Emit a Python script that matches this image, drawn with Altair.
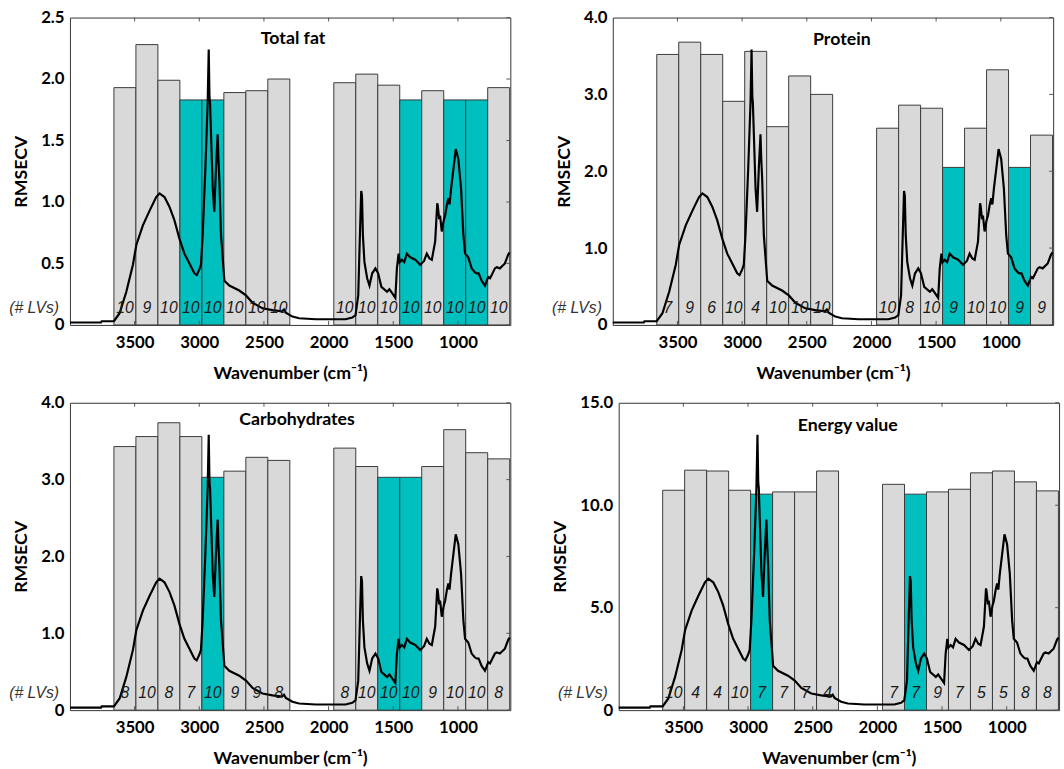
import altair as alt
import pandas as pd

# ---------------- data ----------------
interval_start = [3660, 3490, 3320, 3150, 2980, 2810, 2640, 2470,
                  1960, 1790, 1620, 1450, 1280, 1110, 940, 770]
interval_end = [3490, 3320, 3150, 2980, 2810, 2640, 2470, 2300,
                1790, 1620, 1450, 1280, 1110, 940, 770, 600]

fat_rmsecv = [1.93, 2.28, 1.99, 1.83, 1.83, 1.89, 1.905, 2.00,
              1.97, 2.04, 1.95, 1.83, 1.905, 1.83, 1.83, 1.93]
fat_lvs = [10, 9, 10, 10, 10, 10, 10, 10, 10, 10, 10, 10, 10, 10, 10, 10]
fat_selected = [0, 0, 0, 1, 1, 0, 0, 0, 0, 0, 0, 1, 0, 1, 1, 0]

protein_rmsecv = [3.52, 3.68, 3.52, 2.91, 3.56, 2.58, 3.24, 3.00,
                  2.56, 2.86, 2.82, 2.05, 2.56, 3.32, 2.05, 2.47]
protein_lvs = [7, 9, 6, 10, 4, 10, 10, 10, 10, 8, 10, 9, 10, 10, 9, 9]
protein_selected = [0, 0, 0, 0, 0, 0, 0, 0, 0, 0, 0, 1, 0, 0, 1, 0]

carb_rmsecv = [3.43, 3.56, 3.74, 3.56, 3.03, 3.11, 3.29, 3.25,
               3.41, 3.17, 3.03, 3.03, 3.17, 3.65, 3.35, 3.27]
carb_lvs = [8, 10, 8, 7, 10, 9, 9, 8, 8, 10, 10, 10, 9, 10, 10, 8]
carb_selected = [0, 0, 0, 0, 1, 0, 0, 0, 0, 0, 1, 1, 0, 0, 0, 0]

energy_rmsecv = [10.73, 11.71, 11.67, 10.73, 10.54, 10.65, 10.65, 11.67,
                 11.02, 10.54, 10.65, 10.78, 11.58, 11.67, 11.14, 10.70]
energy_lvs = [10, 4, 4, 10, 7, 7, 7, 4, 7, 7, 9, 7, 5, 5, 8, 8]
energy_selected = [0, 0, 0, 0, 1, 0, 0, 0, 0, 1, 0, 0, 0, 0, 0, 0]

# mean spectrum, read on the "Total fat" panel scale (axis max 2.5)
spectrum_wn = [4000, 3760, 3755, 3660, 3616, 3564, 3513, 3487, 3436, 3384,
               3333, 3307, 3269, 3230, 3192, 3153, 3115, 3076, 3038, 3020,
               3000, 2987, 2974, 2953, 2935, 2927, 2921, 2917, 2896, 2884,
               2871, 2858, 2852, 2845, 2832, 2806, 2768, 2691, 2639, 2588,
               2511, 2434, 2360, 2345, 2331, 2280, 2228, 2100, 1971, 1869,
               1817, 1792, 1771, 1758, 1748, 1742, 1735, 1723, 1702, 1684,
               1663, 1638, 1617, 1592, 1548, 1530, 1510, 1484, 1472, 1459,
               1450, 1433, 1415, 1395, 1369, 1330, 1292, 1262, 1241, 1220,
               1202, 1176, 1160, 1156, 1145, 1138, 1125, 1110, 1099, 1085,
               1074, 1065, 1053, 1035, 1017, 997, 976, 958, 945, 920,
               894, 870, 856, 840, 817, 791, 780, 766, 752, 740,
               714, 700, 676, 637, 612, 600]
spectrum_fat_scale = [0.02, 0.02, 0.03, 0.03, 0.095, 0.27, 0.49, 0.65, 0.81, 0.93,
                      1.04, 1.07, 1.04, 0.96, 0.85, 0.70, 0.58, 0.50, 0.42, 0.405,
                      0.45, 0.49, 0.73, 1.27, 1.81, 2.24, 1.85, 1.81, 1.11, 0.92,
                      1.27, 1.55, 1.35, 1.19, 0.73, 0.36, 0.32, 0.28, 0.24, 0.18,
                      0.135, 0.12, 0.11, 0.125, 0.10, 0.068, 0.054, 0.046, 0.046, 0.046,
                      0.06, 0.08, 0.24, 0.73, 1.09, 1.05, 0.73, 0.51, 0.38, 0.32,
                      0.42, 0.46, 0.42, 0.31, 0.27, 0.29, 0.26, 0.22, 0.46, 0.58,
                      0.51, 0.53, 0.51, 0.58, 0.55, 0.53, 0.49, 0.52, 0.58, 0.54,
                      0.53, 0.68, 0.99, 0.97, 0.86, 0.89, 0.76, 0.85, 0.89, 0.98,
                      1.03, 0.98, 1.11, 1.27, 1.43, 1.35, 1.11, 0.73, 0.58, 0.55,
                      0.46, 0.43, 0.42, 0.42, 0.36, 0.32, 0.35, 0.39, 0.38, 0.405,
                      0.46, 0.47, 0.46, 0.50, 0.57, 0.59]
FAT_AXIS_MAX = 2.5

x_ticks = [3500, 3000, 2500, 2000, 1500, 1000]

panels = [
    dict(title="Total fat", ymax=2.5, yticks=[0, 0.5, 1.0, 1.5, 2.0, 2.5],
         rmsecv=fat_rmsecv, lvs=fat_lvs, sel=fat_selected, tdx=3, tdy=22),
    dict(title="Protein", ymax=4.0, yticks=[0, 1.0, 2.0, 3.0, 4.0],
         rmsecv=protein_rmsecv, lvs=protein_lvs, sel=protein_selected, tdx=9, tdy=23),
    dict(title="Carbohydrates", ymax=4.0, yticks=[0, 1.0, 2.0, 3.0, 4.0],
         rmsecv=carb_rmsecv, lvs=carb_lvs, sel=carb_selected, tdx=7, tdy=18),
    dict(title="Energy value", ymax=15.0, yticks=[0, 5.0, 10.0, 15.0],
         rmsecv=energy_rmsecv, lvs=energy_lvs, sel=energy_selected, tdx=9, tdy=24),
]

# ---------------- style ----------------
W, H = 447, 312
GRAY = "#d9d9d9"
TEAL = "#00bfbf"
FONT = "Lato"
TICK_COLOR = "#555555"


def make_panel(p):
    ymax = p["ymax"]
    xs = alt.Scale(domain=[4000, 595], nice=False, zero=False)
    ys = alt.Scale(domain=[0, ymax], nice=False, zero=True)

    bars_df = pd.DataFrame({
        "start": interval_start,
        "end": interval_end,
        "rmsecv": p["rmsecv"],
        "lv": [str(v) for v in p["lvs"]],
        "fill": [TEAL if s else GRAY for s in p["sel"]],
    })
    spec_df = pd.DataFrame({
        "wn": spectrum_wn,
        "a": [v * ymax / FAT_AXIS_MAX for v in spectrum_fat_scale],
    })
    xt_df = pd.DataFrame({"t": x_ticks})
    yt_df = pd.DataFrame({"t": p["yticks"]})

    x_axis = alt.Axis(values=x_ticks, format="d", title="Wavenumber (cm\u207b\u00b9)",
                      ticks=False, domain=False, grid=False, labelPadding=10,
                      titlePadding=14, labelFontSize=17, titleFontSize=18,
                      labelFlush=False)
    y_axis = alt.Axis(values=p["yticks"], title="RMSECV", ticks=False, domain=False,
                      grid=False, labelPadding=6, titlePadding=10, labelFontSize=17,
                      titleFontSize=18,
                      labelExpr="datum.value == 0 ? '0' : format(datum.value, '.1f')")

    def X(field):
        return alt.X(field, scale=xs, axis=x_axis)

    def Y(field):
        return alt.Y(field, scale=ys, axis=y_axis)

    bottom_ticks = alt.Chart(xt_df).mark_rule(color=TICK_COLOR, strokeWidth=1).encode(
        x=X("t:Q"), y=alt.value(H), y2=alt.value(H - 4))

    bars = alt.Chart(bars_df).mark_rect(stroke="#3a3a3a", strokeWidth=1).encode(
        x=X("start:Q"),
        x2="end:Q",
        y=Y("rmsecv:Q"),
        y2=alt.datum(0),
        fill=alt.Fill("fill:N", scale=None),
    )

    line = alt.Chart(spec_df).mark_line(color="black", strokeWidth=2.2).encode(
        x=X("wn:Q"),
        y=Y("a:Q"),
        order=alt.Order("wn:Q", sort="descending"),
    )

    lv_text = alt.Chart(bars_df).transform_calculate(
        mid="(datum.start + datum.end) / 2"
    ).mark_text(font="Liberation Sans", fontStyle="italic", fontSize=16,
                color="#1a1a1a", baseline="middle", align="center").encode(
        x=X("mid:Q"),
        y=alt.value(H - 17),
        text="lv:N",
    )

    lv_label = alt.Chart(pd.DataFrame({"t": ["(# LVs)"]})).mark_text(
        font="Liberation Sans", fontStyle="italic", fontSize=16, color="#333333",
        align="right", baseline="middle").encode(
        x=alt.value(-11), y=alt.value(H - 17), text="t:N")

    title = alt.Chart(pd.DataFrame({"t": [p["title"]]})).mark_text(
        font=FONT, fontWeight="bold", fontSize=18, color="black",
        align="center", baseline="middle").encode(
        x=alt.value(W / 2 + p["tdx"]), y=alt.value(p["tdy"]), text="t:N")

    top_ticks = alt.Chart(xt_df).mark_rule(color=TICK_COLOR, strokeWidth=1).encode(
        x=X("t:Q"), y=alt.value(0), y2=alt.value(4))
    right_ticks = alt.Chart(yt_df).mark_rule(color=TICK_COLOR, strokeWidth=1).encode(
        y=Y("t:Q"), x=alt.value(W - 4), x2=alt.value(W))

    return alt.layer(bars, bottom_ticks, line, lv_text, lv_label, title,
                     top_ticks, right_ticks).properties(width=W, height=H)


charts = [make_panel(p) for p in panels]
row1 = alt.hconcat(charts[0], charts[1], spacing=36)
row2 = alt.hconcat(charts[2], charts[3], spacing=36)

chart = alt.vconcat(row1, row2, spacing=10).configure_view(
    stroke="#333333", strokeWidth=1
).configure_axis(
    labelFont=FONT, labelFontWeight="bold", labelColor="black",
    titleFont=FONT, titleFontWeight="bold", titleColor="black",
).properties(
    padding={"left": 8, "top": 2, "right": 0, "bottom": 0},
    background="white",
)

chart.save("out.html", embed_options={"renderer": "svg", "actions": False})
